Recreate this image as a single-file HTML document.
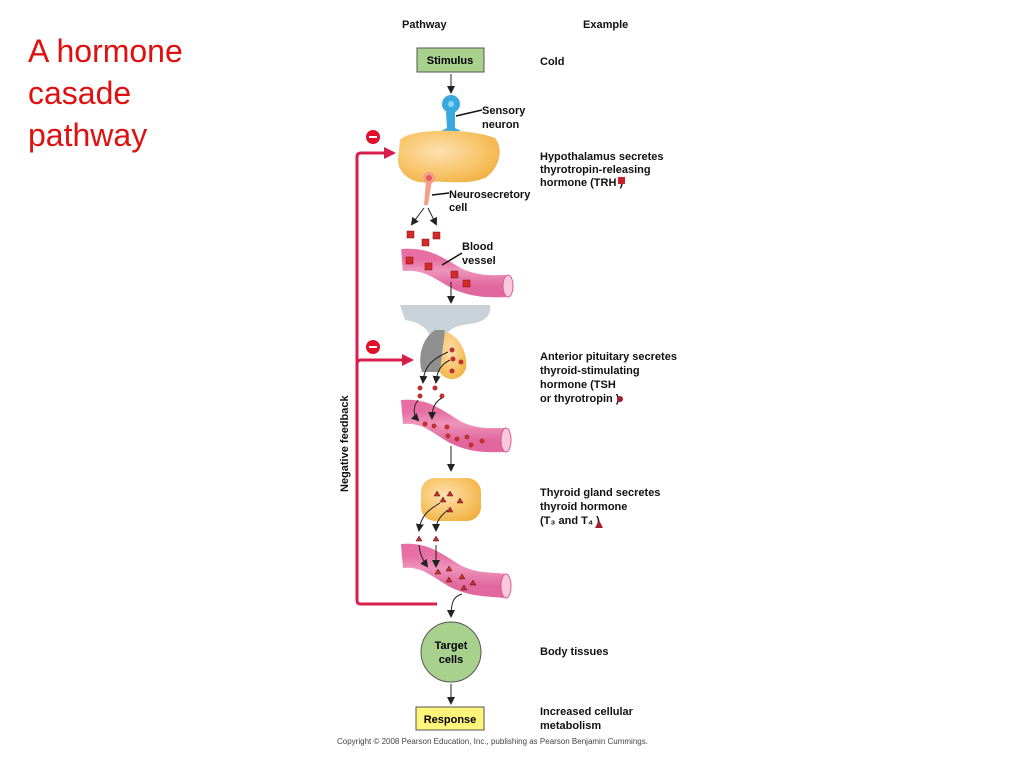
<!DOCTYPE html>
<html><head><style>
body{margin:0;background:#fff}
svg text{font-family:"Liberation Sans",sans-serif}
</style></head><body>
<svg width="1024" height="768" xmlns="http://www.w3.org/2000/svg">
<defs>
<marker id="ah" markerWidth="8" markerHeight="8" refX="6" refY="4" orient="auto" markerUnits="userSpaceOnUse"><path d="M0,0 L8,4 L0,8 z" fill="#222"/></marker>
<marker id="rh" markerWidth="12" markerHeight="12" refX="10" refY="6" orient="auto" markerUnits="userSpaceOnUse"><path d="M0,0 L12,6 L0,12 z" fill="#d81e4a"/></marker>
<radialGradient id="yel" cx="40%" cy="40%" r="70%"><stop offset="0" stop-color="#fde0b0"/><stop offset="0.6" stop-color="#f8c56a"/><stop offset="1" stop-color="#f0b040"/></radialGradient>
<linearGradient id="pk" x1="0" y1="0" x2="0" y2="1"><stop offset="0" stop-color="#e86fa5"/><stop offset="0.4" stop-color="#f7b8d4"/><stop offset="1" stop-color="#dc5f98"/></linearGradient>
</defs>
<text x="28" y="62" font-size="32" fill="#e01010">A hormone</text>
<text x="28" y="104" font-size="32" fill="#e01010">casade</text>
<text x="28" y="146" font-size="32" fill="#e01010">pathway</text>
<g font-size="11" font-weight="bold" fill="#111">
<text x="402" y="28">Pathway</text><text x="583" y="28">Example</text>
<text x="540" y="65">Cold</text>
<text x="482" y="114">Sensory</text><text x="482" y="128">neuron</text>
<text x="540" y="160">Hypothalamus secretes</text><text x="540" y="173">thyrotropin-releasing</text><text x="540" y="186">hormone (TRH   )</text>
<text x="449" y="198">Neurosecretory</text><text x="449" y="211">cell</text>
<text x="462" y="250">Blood</text><text x="462" y="264">vessel</text>
<text x="540" y="360">Anterior pituitary secretes</text><text x="540" y="374">thyroid-stimulating</text><text x="540" y="388">hormone (TSH</text><text x="540" y="402">or thyrotropin    )</text>
<text x="540" y="496">Thyroid gland secretes</text><text x="540" y="510">thyroid hormone</text><text x="540" y="524">(T₃ and T₄    )</text>
<text x="540" y="655">Body tissues</text>
<text x="540" y="715">Increased cellular</text><text x="540" y="729">metabolism</text>
<text transform="translate(348,492) rotate(-90)">Negative feedback</text>
</g>
<rect x="618" y="177" width="7" height="7" fill="#c8202a"/>
<circle cx="620" cy="399" r="3" fill="#a02030"/>
<path d="M595,528 L599,520 L603,528z" fill="#a02030"/>
<text x="337" y="744" font-size="8" fill="#444">Copyright © 2008 Pearson Education, Inc., publishing as Pearson Benjamin Cummings.</text>
<!-- stimulus -->
<rect x="417" y="48" width="67" height="24" fill="#a9d18e" stroke="#555"/>
<text x="450" y="64" font-size="11" font-weight="bold" text-anchor="middle">Stimulus</text>
<line x1="451" y1="74" x2="451" y2="92" stroke="#222" marker-end="url(#ah)"/>
<!-- neuron -->
<path d="M446,112 L447,128 L441,131 L461,131 L455,128 L455,112z" fill="#39a8dc"/>
<circle cx="451" cy="104" r="9" fill="#39a8dc"/>
<circle cx="451" cy="104" r="3" fill="#8fd4f4"/>
<line x1="456" y1="116" x2="482" y2="110" stroke="#111" stroke-width="1.5"/>
<!-- hypothalamus -->
<path d="M400,140 C410,128 470,128 495,138 C505,150 498,170 485,178 C465,186 440,180 430,182 C415,185 398,175 398,160 Z" fill="url(#yel)"/>
<path d="M426,180 L432,180 L428,205 L424,205z" fill="#f3a08a"/>
<circle cx="429" cy="178" r="6" fill="#f3a08a"/>
<circle cx="429" cy="178" r="3" fill="#e85a5a"/>
<line x1="432" y1="195" x2="449" y2="193" stroke="#111" stroke-width="1.5"/>
<line x1="424" y1="208" x2="412" y2="224" stroke="#222" marker-end="url(#ah)"/>
<line x1="428" y1="208" x2="436" y2="224" stroke="#222" marker-end="url(#ah)"/>
<!-- vessel 1 -->
<path d="M402,260 C430,258 440,270 460,280 C480,288 495,286 508,286" fill="none" stroke="url(#pk)" stroke-width="22"/>
<path d="M402,260 C430,258 440,270 460,280 C480,288 495,286 508,286" fill="none" stroke="#e56fa3" stroke-width="22" opacity=".5"/>
<ellipse cx="508" cy="286" rx="5" ry="11" fill="#f8c8dc" stroke="#d85c94"/>
<g fill="#d42a2a" stroke="#801010" stroke-width=".5">
<rect x="407" y="231" width="7" height="7"/><rect x="433" y="232" width="7" height="7"/><rect x="422" y="239" width="7" height="7"/>
<rect x="406" y="257" width="7" height="7"/><rect x="425" y="263" width="7" height="7"/><rect x="451" y="271" width="7" height="7"/><rect x="463" y="280" width="7" height="7"/>
</g>
<line x1="442" y1="265" x2="462" y2="253" stroke="#111" stroke-width="1.5"/>
<line x1="451" y1="282" x2="451" y2="302" stroke="#222" marker-end="url(#ah)"/>
<!-- pituitary -->
<path d="M400,305 L490,305 C492,315 485,322 470,324 C450,326 445,332 445,345 L432,345 C432,330 420,322 405,320 Z" fill="#c8d2d8"/>
<path d="M435,330 C420,340 418,360 422,372 L440,372 L445,330z" fill="#909090"/>
<path d="M445,332 C460,335 468,355 466,368 C462,382 445,382 440,372 Z" fill="url(#yel)"/>
<g fill="#c03030"><circle cx="452" cy="350" r="2.5"/><circle cx="453" cy="359" r="2.5"/><circle cx="461" cy="362" r="2.5"/><circle cx="452" cy="371" r="2.5"/>
<circle cx="420" cy="388" r="2.5"/><circle cx="435" cy="388" r="2.5"/><circle cx="420" cy="396" r="2.5"/><circle cx="442" cy="396" r="2.5"/></g>
<path d="M448,352 C430,360 424,368 423,382" fill="none" stroke="#222" marker-end="url(#ah)"/>
<path d="M450,360 C440,365 437,372 436,382" fill="none" stroke="#222" marker-end="url(#ah)"/>
<!-- vessel 2 -->
<path d="M402,412 C425,410 435,420 455,432 C475,442 490,440 506,440" fill="none" stroke="url(#pk)" stroke-width="24"/>
<path d="M402,412 C425,410 435,420 455,432 C475,442 490,440 506,440" fill="none" stroke="#e56fa3" stroke-width="24" opacity=".5"/>
<ellipse cx="506" cy="440" rx="5" ry="12" fill="#f8c8dc" stroke="#d85c94"/>
<g fill="#c03030"><circle cx="425" cy="424" r="2.5"/><circle cx="434" cy="426" r="2.5"/><circle cx="447" cy="427" r="2.5"/><circle cx="448" cy="436" r="2.5"/><circle cx="457" cy="439" r="2.5"/><circle cx="467" cy="437" r="2.5"/><circle cx="471" cy="445" r="2.5"/><circle cx="482" cy="441" r="2.5"/></g>
<path d="M418,400 C412,408 414,416 418,420" fill="none" stroke="#222" marker-end="url(#ah)"/>
<path d="M442,398 C434,402 432,410 432,418" fill="none" stroke="#222" marker-end="url(#ah)"/>
<line x1="451" y1="446" x2="451" y2="470" stroke="#222" marker-end="url(#ah)"/>
<!-- thyroid -->
<rect x="421" y="478" width="60" height="43" rx="14" fill="url(#yel)"/>
<!-- vessel 3 -->
<path d="M402,556 C425,554 435,564 455,576 C475,586 490,584 506,586" fill="none" stroke="url(#pk)" stroke-width="24"/>
<path d="M402,556 C425,554 435,564 455,576 C475,586 490,584 506,586" fill="none" stroke="#e56fa3" stroke-width="24" opacity=".5"/>
<ellipse cx="506" cy="586" rx="5" ry="12" fill="#f8c8dc" stroke="#d85c94"/>
<g fill="#c03030" stroke="#601010" stroke-width=".5">
<path d="M434,496 l3,-5 l3,5z"/><path d="M447,496 l3,-5 l3,5z"/><path d="M440,502 l3,-5 l3,5z"/><path d="M457,503 l3,-5 l3,5z"/><path d="M447,512 l3,-5 l3,5z"/>
<path d="M416,541 l3,-5 l3,5z"/><path d="M433,541 l3,-5 l3,5z"/>
<path d="M435,574 l3,-5 l3,5z"/><path d="M446,571 l3,-5 l3,5z"/><path d="M459,579 l3,-5 l3,5z"/><path d="M446,582 l3,-5 l3,5z"/><path d="M470,585 l3,-5 l3,5z"/><path d="M461,590 l3,-5 l3,5z"/>
</g>
<path d="M440,503 C428,510 421,516 419,530" fill="none" stroke="#222" marker-end="url(#ah)"/>
<path d="M448,510 C440,516 436,522 436,530" fill="none" stroke="#222" marker-end="url(#ah)"/>
<path d="M419,545 C420,555 424,562 427,566" fill="none" stroke="#222" marker-end="url(#ah)"/>
<line x1="436" y1="545" x2="436" y2="566" stroke="#222" marker-end="url(#ah)"/>
<path d="M462,594 C455,596 451,600 451,616" fill="none" stroke="#222" marker-end="url(#ah)"/>
<!-- feedback -->
<path d="M437,604 L360,604 Q357,604 357,600 L357,157 Q357,153 361,153 L394,153" fill="none" stroke="#d81e4a" stroke-width="3" marker-end="url(#rh)"/>
<path d="M357,364 Q357,360 361,360 L412,360" fill="none" stroke="#d81e4a" stroke-width="3" marker-end="url(#rh)"/>
<circle cx="373" cy="137" r="7" fill="#e0102a"/><rect x="369" y="136" width="8" height="2" fill="#fff"/>
<circle cx="373" cy="347" r="7" fill="#e0102a"/><rect x="369" y="346" width="8" height="2" fill="#fff"/>
<!-- target -->
<circle cx="451" cy="652" r="30" fill="#a9d18e" stroke="#555"/>
<text x="451" y="649" font-size="11" font-weight="bold" text-anchor="middle">Target</text>
<text x="451" y="663" font-size="11" font-weight="bold" text-anchor="middle">cells</text>
<line x1="451" y1="684" x2="451" y2="703" stroke="#222" marker-end="url(#ah)"/>
<rect x="416" y="707" width="68" height="23" fill="#fff57a" stroke="#555"/>
<text x="450" y="723" font-size="11" font-weight="bold" text-anchor="middle">Response</text>
</svg>
</body></html>
